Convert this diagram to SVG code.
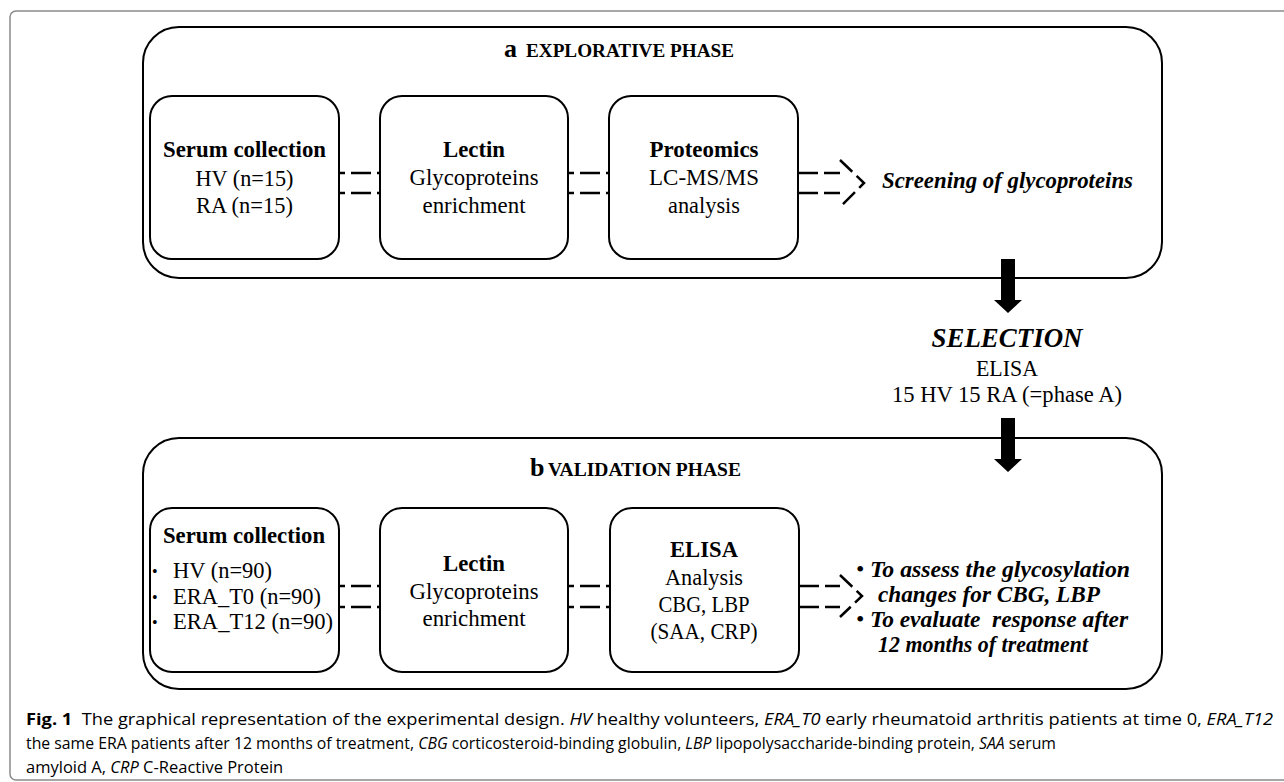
<svg xmlns="http://www.w3.org/2000/svg" width="1284" height="782" viewBox="0 0 1284 782">
<defs>
<style>
.frame{fill:none;stroke:#8a8a8a;stroke-width:1.5}
.panel{fill:none;stroke:#000;stroke-width:2}
.box{fill:#fff;stroke:#000;stroke-width:2}
.dash{fill:none;stroke:#000;stroke-width:2.5;stroke-dasharray:20 6}
.arrow{fill:#000;stroke:none}
text{font-family:"Liberation Serif","Times New Roman",serif;fill:#000}
.t{font-size:22.5px;text-anchor:middle}
.tb{font-size:23px;font-weight:bold;text-anchor:middle}
.ttl{font-size:18.5px;font-weight:bold}
.big{font-size:26px;font-weight:bold}
.bi{font-size:23px;font-weight:bold;font-style:italic}
.bul{font-size:16px}
.bul2{font-size:24px}
.cap{font-family:"Open Sans","Noto Sans","Liberation Sans",sans-serif;font-size:16.5px}
.cap .i{font-style:italic}
.cap .b{font-weight:bold}
</style>
</defs>
<rect class="frame" x="10" y="11" width="1300" height="769" rx="6"/>

<g id="panel-a">
<rect class="panel" x="143" y="27" width="1019" height="251" rx="36"/>
<text x="504" y="57" class="big">a</text>
<text x="526" y="57" class="ttl" textLength="208" lengthAdjust="spacingAndGlyphs">EXPLORATIVE PHASE</text>
</g>

<g id="a-serum">
<rect class="box" x="150" y="96" width="189" height="163" rx="22"/>
<text x="244.5" y="157" class="tb" textLength="163" lengthAdjust="spacingAndGlyphs">Serum collection</text>
<text x="244.5" y="186" class="t" textLength="98" lengthAdjust="spacingAndGlyphs">HV (n=15)</text>
<text x="244.5" y="213" class="t" textLength="97" lengthAdjust="spacingAndGlyphs">RA (n=15)</text>
</g>
<g id="a-lectin">
<rect class="box" x="380" y="96" width="188" height="163" rx="22"/>
<text x="474" y="157" class="tb" textLength="62" lengthAdjust="spacingAndGlyphs">Lectin</text>
<text x="474" y="185" class="t" textLength="129" lengthAdjust="spacingAndGlyphs">Glycoproteins</text>
<text x="474" y="213" class="t" textLength="103" lengthAdjust="spacingAndGlyphs">enrichment</text>
</g>
<g id="a-proteomics">
<rect class="box" x="609" y="96" width="189" height="163" rx="22"/>
<text x="704" y="157" class="tb" textLength="109" lengthAdjust="spacingAndGlyphs">Proteomics</text>
<text x="704" y="185" class="t" textLength="110" lengthAdjust="spacingAndGlyphs">LC-MS/MS</text>
<text x="704" y="213" class="t" textLength="72" lengthAdjust="spacingAndGlyphs">analysis</text>
</g>
<g id="a-screening">
<text x="882" y="188" class="bi" textLength="251" lengthAdjust="spacingAndGlyphs">Screening of glycoproteins</text>
</g>

<g id="selection">
<text x="1007" y="347" class="bi" style="font-size:27px" text-anchor="middle" textLength="151" lengthAdjust="spacingAndGlyphs">SELECTION</text>
<text x="1007" y="376" class="t" textLength="62" lengthAdjust="spacingAndGlyphs">ELISA</text>
<text x="1007" y="402" class="t" textLength="230" lengthAdjust="spacingAndGlyphs">15 HV 15 RA (=phase A)</text>
</g>

<g id="panel-b">
<rect class="panel" x="143" y="438" width="1019" height="251" rx="36"/>
<text x="530" y="476" class="big">b</text>
<text x="548" y="476" class="ttl" textLength="193" lengthAdjust="spacingAndGlyphs">VALIDATION PHASE</text>
</g>

<g id="b-serum">
<rect class="box" x="150" y="508" width="189" height="164" rx="22"/>
<text x="244" y="543" class="tb" textLength="162" lengthAdjust="spacingAndGlyphs">Serum collection</text>
<text x="152" y="577" class="bul">•</text>
<text x="173" y="578" class="t" style="text-anchor:start" textLength="99" lengthAdjust="spacingAndGlyphs">HV (n=90)</text>
<text x="152" y="603" class="bul">•</text>
<text x="173" y="604" class="t" style="text-anchor:start" textLength="148" lengthAdjust="spacingAndGlyphs">ERA_T0 (n=90)</text>
<text x="152" y="628" class="bul">•</text>
<text x="173" y="629" class="t" style="text-anchor:start" textLength="160" lengthAdjust="spacingAndGlyphs">ERA_T12 (n=90)</text>
</g>
<g id="b-lectin">
<rect class="box" x="380" y="508" width="188" height="164" rx="22"/>
<text x="474" y="571" class="tb" textLength="62" lengthAdjust="spacingAndGlyphs">Lectin</text>
<text x="474" y="599" class="t" textLength="129" lengthAdjust="spacingAndGlyphs">Glycoproteins</text>
<text x="474" y="626" class="t" textLength="103" lengthAdjust="spacingAndGlyphs">enrichment</text>
</g>
<g id="b-elisa">
<rect class="box" x="610" y="508" width="189" height="164" rx="22"/>
<text x="704" y="557" class="tb" textLength="68" lengthAdjust="spacingAndGlyphs">ELISA</text>
<text x="704" y="585" class="t" textLength="78" lengthAdjust="spacingAndGlyphs">Analysis</text>
<text x="704" y="612" class="t" textLength="91" lengthAdjust="spacingAndGlyphs">CBG, LBP</text>
<text x="704" y="639" class="t" textLength="107" lengthAdjust="spacingAndGlyphs">(SAA, CRP)</text>
</g>
<g id="b-goals">
<text x="856" y="577" class="bul2">•</text>
<text x="870" y="577" class="bi" textLength="260" lengthAdjust="spacingAndGlyphs">To assess the glycosylation</text>
<text x="878" y="602" class="bi" textLength="222" lengthAdjust="spacingAndGlyphs">changes for CBG, LBP</text>
<text x="856" y="627" class="bul2">•</text>
<text x="870" y="627" class="bi" xml:space="preserve" textLength="258" lengthAdjust="spacingAndGlyphs">To evaluate  response after</text>
<text x="878" y="652" class="bi" textLength="210" lengthAdjust="spacingAndGlyphs">12 months of treatment</text>
</g>

<g id="connectors">
<path class="dash" d="M339,173 H380 M339,193 H380" style="stroke-dashoffset:14"/>
<path class="dash" d="M568,173 H609 M568,193 H609" style="stroke-dashoffset:14"/>
<path class="dash" d="M798,173 H840 M798,193 H840"/>
<path class="dash" d="M840,160 L864,183 L840,207" style="stroke-dasharray:17 6"/>
<polygon class="arrow" points="1001,259 1015,259 1015,300 1022,300 1008,313 994,300 1001,300"/>
<polygon class="arrow" points="1001,418 1015,418 1015,459 1022,459 1008,472 994,459 1001,459"/>
<path class="dash" d="M339,586 H380 M339,607 H380" style="stroke-dashoffset:14"/>
<path class="dash" d="M568,586 H610 M568,607 H610" style="stroke-dashoffset:14"/>
<path class="dash" d="M799,586 H840 M799,607 H840"/>
<path class="dash" d="M840,575 L862,596 L840,617" style="stroke-dasharray:17 6"/>
</g>

<g id="caption">
<text class="cap" x="26" y="725" textLength="1247" lengthAdjust="spacingAndGlyphs" xml:space="preserve"><tspan class="b">Fig. 1</tspan>  The graphical representation of the experimental design. <tspan class="i">HV</tspan> healthy volunteers, <tspan class="i">ERA_T0</tspan> early rheumatoid arthritis patients at time 0, <tspan class="i">ERA_T12</tspan></text>
<text class="cap" x="26" y="749" textLength="1030" lengthAdjust="spacingAndGlyphs">the same ERA patients after 12 months of treatment, <tspan class="i">CBG</tspan> corticosteroid-binding globulin, <tspan class="i">LBP</tspan> lipopolysaccharide-binding protein, <tspan class="i">SAA</tspan> serum</text>
<text class="cap" x="26" y="773">amyloid A, <tspan class="i">CRP</tspan> C-Reactive Protein</text>
</g>
</svg>
